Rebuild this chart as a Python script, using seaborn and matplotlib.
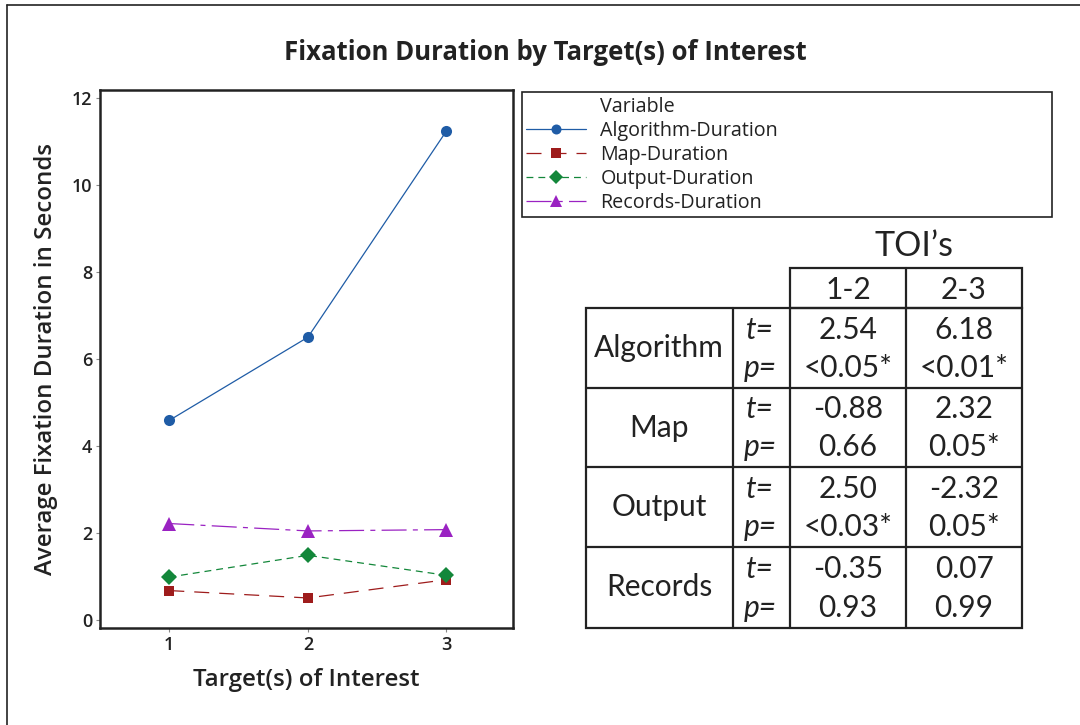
import numpy as np
import pandas as pd
import matplotlib
matplotlib.use("Agg")
import matplotlib.pyplot as plt
import seaborn as sns
from matplotlib.lines import Line2D
from matplotlib.patches import Rectangle

# ---------------- data ----------------
targets = [1, 2, 3]
algorithm = [4.59, 6.50, 11.24]
map_dur = [0.68, 0.51, 0.93]
output_dur = [0.99, 1.49, 1.03]
records = [2.22, 2.05, 2.08]
variables = ["Algorithm-Duration", "Map-Duration", "Output-Duration", "Records-Duration"]

table_rows = ["Algorithm", "Map", "Output", "Records"]
toi_cols = ["1-2", "2-3"]
t_12 = ["2.54", "-0.88", "2.50", "-0.35"]
t_23 = ["6.18", "2.32", "-2.32", "0.07"]
p_12 = ["<0.05*", "0.66", "<0.03*", "0.93"]
p_23 = ["<0.01*", "0.05*", "0.05*", "0.99"]

df = pd.DataFrame({
    "Target": targets * 4,
    "Duration": algorithm + map_dur + output_dur + records,
    "Variable": np.repeat(variables, len(targets)),
})

# ---------------- style ----------------
sns.set_theme(style="white")
plt.rcParams['font.family'] = ['Open Sans', 'DejaVu Sans']

W, H = 1080, 725
fig = plt.figure(figsize=(W / 100, H / 100), dpi=100)
fig.patch.set_facecolor("white")

def fx(px):
    return px / W

def fy(py):
    return 1 - py / H

colors = {
    "Algorithm-Duration": "#1F5CA6",
    "Map-Duration": "#9E1C1C",
    "Output-Duration": "#13873A",
    "Records-Duration": "#9A22C2",
}
dashes = {
    "Algorithm-Duration": "",
    "Map-Duration": (12, 8),
    "Output-Duration": (5.5, 4),
    "Records-Duration": (20, 5, 4, 5),
}
markers = {
    "Algorithm-Duration": "o",
    "Map-Duration": "s",
    "Output-Duration": "D",
    "Records-Duration": "^",
}
msizes = {
    "Algorithm-Duration": 8,
    "Map-Duration": 7.5,
    "Output-Duration": 8,
    "Records-Duration": 10,
}

ax = fig.add_axes([fx(100), fy(628), fx(513) - fx(100), fy(90) - fy(628)])
sns.lineplot(data=df, x="Target", y="Duration", hue="Variable", style="Variable",
             palette=colors, dashes=dashes, markers=markers, linewidth=0.9,
             markersize=8, markeredgewidth=0, legend=False, ax=ax)
for line, v in zip(ax.get_lines(), variables):
    line.set_markersize(msizes[v])

ax.set_xlim(0.5, 3.48)
ax.set_ylim(-0.18, 12.18)
ax.set_xticks([1, 2, 3])
ax.set_yticks([0, 2, 4, 6, 8, 10, 12])
ax.tick_params(axis="both", which="major", direction="out", length=3, width=0.8,
               color="#888888", labelsize=13, pad=2.5, bottom=True, left=True,
               labelcolor="#222222")
for lab in ax.get_xticklabels() + ax.get_yticklabels():
    lab.set_fontweight("semibold")
for s in ax.spines.values():
    s.set_color("#222222")
    s.set_linewidth(1.8)
ax.set_xlabel("Target(s) of Interest", fontsize=17.3, fontweight="semibold",
              color="#222222", labelpad=10)
ax.set_ylabel("Average Fixation Duration in Seconds", fontsize=17.3,
              fontweight="semibold", color="#222222", labelpad=10)

fig.text(fx(545), fy(53), "Fixation Duration by Target(s) of Interest",
         ha="center", va="center", fontsize=18.5, fontweight="bold", color="#222222")

# ---------------- overlay (legend box, table, border) ----------------
ov = fig.add_axes([0, 0, 1, 1], zorder=5)
ov.set_xlim(0, W)
ov.set_ylim(H, 0)
ov.axis("off")
ov.patch.set_alpha(0)

# figure border
ov.plot([7, 7], [5, H], color="#222222", lw=1.2)
ov.plot([7, W], [5, 5], color="#222222", lw=1.2)

# legend box
ov.add_patch(Rectangle((522, 92), 1052 - 522, 217 - 92, fill=False,
                       edgecolor="#222222", lw=1.2))
handles = [Line2D([], [], linestyle="none", marker="none")]
labels = ["Variable"]
for v in variables:
    ls = "-" if dashes[v] == "" else (0, dashes[v])
    handles.append(Line2D([], [], color=colors[v], lw=0.9, linestyle=ls,
                          marker=markers[v], markersize=msizes[v] * 0.9,
                          markeredgewidth=0))
    labels.append(v)
fig.legend(handles, labels, loc="upper left",
           bbox_to_anchor=(fx(524), fy(95)), frameon=False, fontsize=14.2,
           handlelength=3.05, handletextpad=0.72, labelspacing=0.2,
           borderaxespad=0, borderpad=0.1, labelcolor="#222222")

# table
tc = "#222222"
tlw = 1.6
tfont = ['Lato', 'DejaVu Sans']
fs = 21.5
ov.text(914, 246, "TOI\u2019s", ha="center", va="center", fontsize=24.5,
        family=tfont, color=tc)
# header box
ov.add_patch(Rectangle((790, 268), 1022 - 790, 308 - 268, fill=False, edgecolor=tc, lw=tlw))
ov.plot([906, 906], [268, 308], color=tc, lw=tlw)
for cx, lab in zip([848, 964], toi_cols):
    ov.text(cx, 290, lab, ha="center", va="center", fontsize=fs, family=tfont, color=tc)
# main box
ov.add_patch(Rectangle((586, 308), 1022 - 586, 628 - 308, fill=False, edgecolor=tc, lw=tlw))
for x in [733, 790, 906]:
    ov.plot([x, x], [308, 628], color=tc, lw=tlw)
row_edges = [308, 388, 467, 547, 628]
for y in row_edges[1:-1]:
    ov.plot([586, 1022], [y, y], color=tc, lw=tlw)
for i, name in enumerate(table_rows):
    top, bot = row_edges[i], row_edges[i + 1]
    mid = (top + bot) / 2
    ty = top + (bot - top) * 0.27
    py = top + (bot - top) * 0.75
    ov.text(659, mid, name, ha="center", va="center", fontsize=fs, family=tfont, color=tc)
    ov.text(760, ty, "t=", ha="center", va="center", fontsize=fs, family=tfont,
            style="italic", color=tc)
    ov.text(760, py, "p=", ha="center", va="center", fontsize=fs, family=tfont,
            style="italic", color=tc)
    ov.text(848, ty, t_12[i], ha="center", va="center", fontsize=fs, family=tfont, color=tc)
    ov.text(964, ty, t_23[i], ha="center", va="center", fontsize=fs, family=tfont, color=tc)
    ov.text(848, py, p_12[i], ha="center", va="center", fontsize=fs, family=tfont, color=tc)
    ov.text(964, py, p_23[i], ha="center", va="center", fontsize=fs, family=tfont, color=tc)

fig.savefig("out.png", dpi=100)
